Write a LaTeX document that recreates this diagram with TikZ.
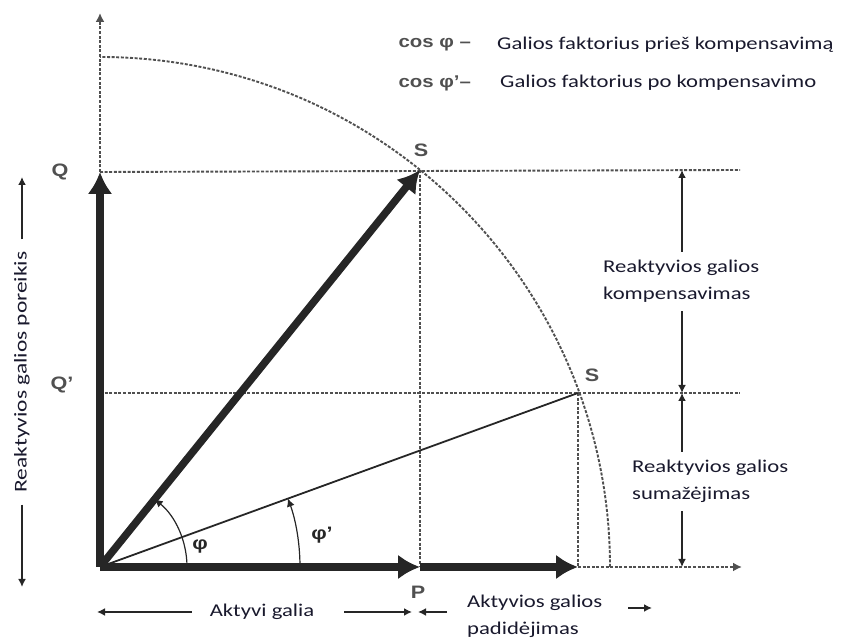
\documentclass[tikz,border=0pt]{standalone}
\usepackage{fontspec}
\setmainfont[FakeStretch=1.26]{Carlito}
\newfontfamily\lblfont[FakeStretch=1.2]{Liberation Sans}
\newfontfamily\sidefont[FakeStretch=1.3]{Carlito}
\usetikzlibrary{arrows, arrows.meta}
\definecolor{mygray}{RGB}{80,80,80}
\definecolor{mydark}{RGB}{38,38,38}
\definecolor{mytext}{RGB}{25,25,45}

\begin{document}
\begin{tikzpicture}[x=1pt,y=1pt,
  guide/.style={mygray, line width=1.9pt, dash pattern=on 3pt off 1.6pt},
  vec/.style={line width=7.5pt, mydark, -{Latex[length=22pt,width=25pt]}},
  dim/.style={line width=1.6pt, mydark, -{Latex[length=8pt,width=8pt]}},
  lbl/.style={font=\lblfont\bfseries\fontsize{18}{18}\selectfont, text=mygray},
  txt/.style={font=\fontsize{18}{27}\selectfont, text=mytext, align=left, inner sep=0pt}]
  \useasboundingbox (0,0) rectangle (852,639);
  \def\R{510}

  %points
  \coordinate (O) at (100,72);
  \coordinate (Qtop) at (100,467);
  \coordinate (S1) at (420,469);
  \coordinate (S2) at (578,246);
  \coordinate (P1) at (420,72);
  \coordinate (P2) at (578,72);
  \coordinate (yend) at (100,626);
  \coordinate (xend) at (742,72);

  %guide lines
  \draw[guide] (O) ++(0:\R) arc (0:90:\R);
  \draw[guide,-{Latex[length=9pt,width=9pt]}] (Qtop) -- (yend);
  \draw[guide,-{Latex[length=9pt,width=9pt]}] (P2) -- (xend);
  \draw[guide] (Qtop) -- (740,469);
  \draw[guide] (O |- S2) -- (740,246);
  \draw[guide] (S1) -- (P1);
  \draw[guide] (S2) -- (P2);

  %vectors
  \draw[line width=1.8pt, mydark] (O) -- (S2);
  \draw[vec] (O) -- (Qtop);
  \draw[vec] (O) -- (S1);
  \draw[vec] (O) -- (P1);
  \draw[vec] (P1) -- (P2);

  %angles
  \draw[dim, line width=1.2pt] (O) ++(0:87) arc (0:51.1:87);
  \draw[dim, line width=1.2pt] (O) ++(0:200) arc (0:20:200);
  \node[lbl, text=mydark] (phi) at (200,92) {φ};
  \node[lbl, text=mydark] (phii) at (322,104) {φ’};

  %point labels
  \node[lbl] (Q) at (60,467) {Q};
  \node[lbl] (Qi) at (62,254) {Q’};
  \node[lbl] (S1lbl) at (421,489) {S};
  \node[lbl] (S2lbl) at (592,264) {S};
  \node[lbl] (P) at (418,47) {P};

  %legend
  \node[lbl, anchor=west, font=\lblfont\bfseries\fontsize{17}{17}\selectfont] (cos1) at (395,594) {cos φ –};
  \node[txt, anchor=west] (leg1) at (497,594) {Galios faktorius prieš kompensavimą};
  \node[lbl, anchor=west, font=\lblfont\bfseries\fontsize{17}{17}\selectfont] (cos2) at (395,556) {cos φ’–};
  \node[txt, anchor=west] (leg2) at (500,556) {Galios faktorius po kompensavimo};

  %right dimensions
  \coordinate (d1) at (682,469);
  \coordinate (d2) at (682,246);
  \coordinate (d3) at (682,72);
  \node[txt, anchor=west] (komp) at (603,358) {Reaktyvios galios\\kompensavimas};
  \node[txt, anchor=west] (suma) at (632,158) {Reaktyvios galios\\sumažėjimas};
  \draw[dim] ([yshift=8pt]komp.north -| d1) -- (d1);
  \draw[dim] ([yshift=-9pt]komp.south -| d1) -- (d2);
  \draw[dim] ([yshift=8pt]suma.north -| d2) -- (d2);
  \draw[dim] ([yshift=-9pt]suma.south -| d2) -- (d3);

  %left dimension
  \node[txt, font=\sidefont\fontsize{18}{27}\selectfont, rotate=90] (need) at (22,267) {Reaktyvios galios poreikis};
  \draw[dim] ([yshift=12pt]need.east) -- (22,462);
  \draw[dim] ([yshift=-12pt]need.west) -- (22,52);

  %bottom dimensions
  \node[txt] (akt) at (262,27) {Aktyvi galia};
  \draw[dim] ([xshift=-18pt]akt.west) -- (97,27);
  \draw[dim] ([xshift=30pt]akt.east) -- (412,27);
  \node[txt, anchor=west] (padid) at (467,23) {Aktyvios galios\\padidėjimas};
  \draw[dim] ([xshift=-20pt]padid.west |- akt) -- (418,27);
  \draw[dim] (628,31) -- (652,31);
\end{tikzpicture}
\end{document}
